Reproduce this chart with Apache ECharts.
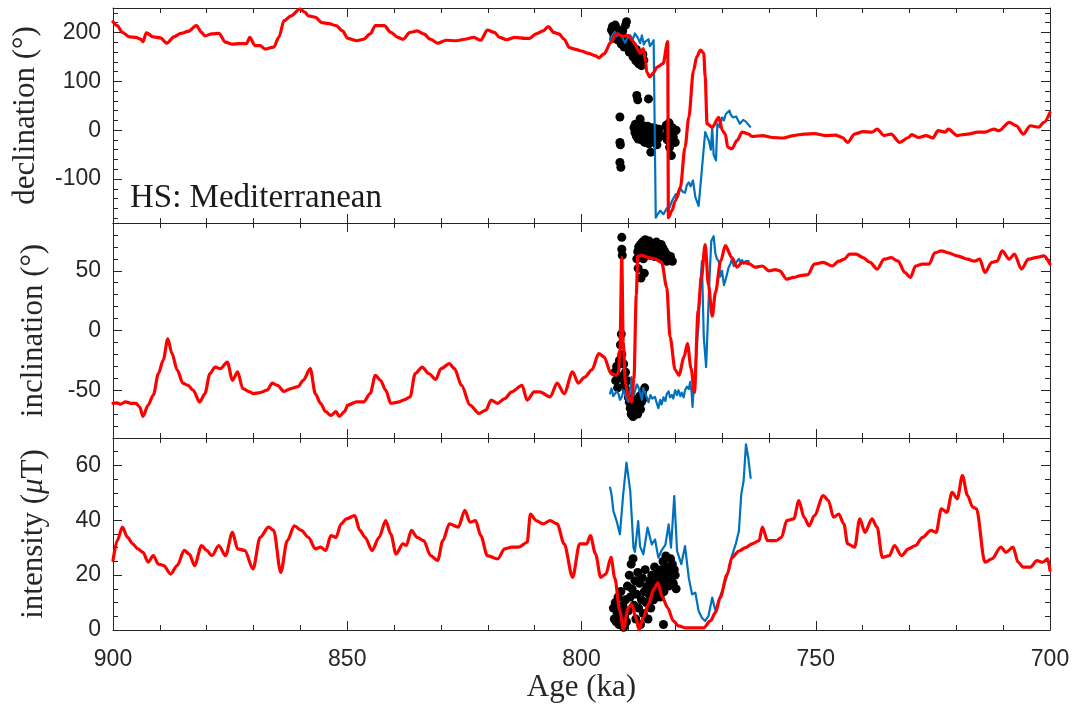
<!DOCTYPE html>
<html>
<head>
<meta charset="utf-8">
<script src="https://cdn.jsdelivr.net/npm/echarts@6/dist/echarts.min.js"></script>
<style>
  html, body { margin: 0; padding: 0; background: #ffffff; }
  #chart { width: 1076px; height: 705px; }
</style>
</head>
<body>
<div id="chart"></div>
<script>
// Age axis (ka) shared by all three panels
const ageMin = 700;
const ageMax = 900;
const ageStep = 50;

// ---------- Declination (deg) ----------
const declRed = [
  [900,222],[899.1,214],[898,200],[896.5,191],[895.1,190],[894,186],[893.6,181],[892.9,199],[891.4,191],
  [889.9,189],[888.5,178],[887,191],[885.5,198],[884,202],[882.2,214],[881.1,200],[880.4,193],[878.9,197],
  [877.4,198],[876,180],[874.5,176],[873,177],[871.5,177],[870.8,190],[869.7,173],[868.6,173],[867.5,166],
  [865.7,170],[864.6,190],[863.5,224],[862,234],[860.1,248],[859,241],[858.3,234],[856.8,231],[855.4,220],
  [853.9,218],[852.4,214],[851,203],[849.9,188],[848,183],[846.5,186],[845.1,197],[844,214],[842.1,214],
  [840.7,200],[839.2,190],[838.1,186],[836.6,200],[835.1,203],[833.7,197],[832.2,186],[830.7,178],[828.9,184],
  [826.7,183],[824.9,186],[823,190],[821.5,184],[820.1,205],[818.6,200],[817.5,190],[816,185],[814.2,190],
  [812,188],[811.1,188],[809.7,197],[808.2,203],[807.1,212],[805.9,200],[804.8,197],[803.7,186],[802.6,169],
  [801.5,166],[800,162],[798.5,157],[797,152],[796.3,148],[795.2,156],[793.7,180],[792.6,197],[791.1,192],
  [790,194],[789.3,185],[788.6,177],[788,165],[787.5,157],[786.8,167],[786.3,140],[786.1,119],[785.4,109],
  [784.6,118],[783.9,129],[782.6,136],[781.6,181],[781.45,-179],[780.7,-165],[780,-145],[778.9,-117],
  [777.9,-35],[777.1,26],[776.1,122],[775.4,150],[774.6,164],[773.9,157],[773.6,109],[773.2,13],[772.1,6],
  [770.7,26],[769.9,-1],[769.3,-8],[768.8,-35],[767.9,-38],[766.8,-21],[765.7,-4],[764.3,-8],[763.6,-13],
  [761.4,-11],[759.2,-15],[756.9,-16],[754.7,-11],[752.5,-8],[750.3,-7],[748,-11],[745.8,-10],[744.3,-15],
  [743.2,-25],[741.7,-8],[739.9,-3],[738,-4],[736.9,2],[735.4,-11],[733.9,-8],[732.1,-25],[730.2,-15],
  [729.5,-9],[728,-15],[726.5,-11],[725,-16],[723.9,-1],[722.4,-4],[721.7,2],[719.8,-11],[717.6,-8],
  [715.4,-4],[713.9,-4],[712,2],[710.9,-1],[708.7,16],[707.2,9],[705.7,-8],[704.2,9],[702.4,6],[701.3,16],
  [700,36]
];
const declBlue = [
  [793.9,184],[793.4,195],[792.9,201],[792.5,192],[792.1,198],[791.4,191],[790.7,179],[790.2,188],[789.6,194],
  [789.1,185],[788.6,198],[787.9,188],[787.5,178],[787.1,194],[786.7,175],[786.4,181],[785.7,186],[785.4,172],
  [785,177],[784.6,184],[784.3,181],[784.15,-179],[783.6,-170],[783.2,-165],[782.5,-172],[781.8,-160],
  [781.2,-158],[780.7,-145],[779.9,-131],[779.4,-136],[778.9,-119],[778.4,-126],[777.9,-128],[777.5,-112],
  [777.1,-107],[776.7,-115],[776.2,-103],[775.7,-137],[775,-155],[774.3,-80],[773.6,-4],[773.2,-1],
  [772.8,-22],[772.4,-40],[772.1,6],[771.8,-50],[771.3,-62],[771,13],[770.5,6],[770,26],[769.6,20],
  [769.2,33],[768.9,37],[768.4,40],[768.2,33],[767.7,26],[767.3,30],[767,28],[766.6,24],[766.2,13],
  [765.5,21],[765,18],[764.7,16],[764,7]
];
const declDots = [
  [793.6,205],[793.4,212],[793.2,198],[793,208],[792.8,215],[792.6,200],[792.4,195],[792.2,206],[792,190],
  [791.8,198],[791.6,185],[791.4,192],[791.2,203],[791,180],[790.8,188],[790.6,215],[790.4,222],[790.3,175],
  [790.1,182],[789.9,170],[789.7,178],[789.5,168],[789.3,160],[789.1,172],[788.9,162],[788.7,155],[788.5,150],
  [788.3,165],[788.1,158],[787.9,145],[787.7,152],[787.5,140],[787.3,148],[787.1,138],[786.9,155],[786.7,143],
  [793.1,188],[792.3,185],[791.5,176],[790.9,170],[789.8,160],[789,150],[788.4,142],[787.8,136],[787.2,132],
  [788.2,71],[788,62],[785.7,64],[791.8,27],[787.5,23],[791.8,-25],[791.7,-30],[791.8,-66],[791.6,-76],
  [788.8,5],[788.6,-5],[788.5,12],[788.3,-12],[788.2,0],[788,8],[787.9,-18],[787.8,-3],[787.6,15],[787.5,-8],
  [787.3,2],[787.2,-20],[787,10],[786.9,-12],[786.8,-2],[786.6,6],[786.5,-25],[786.3,-6],[786.2,3],[786,-15],
  [785.9,8],[785.7,-4],[785.6,-28],[785.4,-10],[785.3,0],[785.2,-45],[785,-8],[784.9,5],[784.7,-14],
  [784.6,-2],[784.4,-22],[784.3,4],[784.1,-10],[783.9,-30],[783.8,-5],[783.6,-16],[783.4,2],[782.2,-12],
  [781.9,10],[781.7,-20],[781.5,-2],[781.3,15],[781.2,-35],[781,-8],[780.8,-52],[780.6,5],[780.4,-15],
  [780.2,-3],[780,-25],[779.8,0]
];

// ---------- Inclination (deg) ----------
const inclRed = [
  [900,-61],[899.1,-60.6],[898.4,-61.7],[897.3,-59.7],[896.2,-61],[895.1,-61],[894.3,-64],[893.6,-72],
  [892.5,-62.5],[891.4,-54],[890.3,-36],[889.3,-25],[888.3,-7],[887.4,-19.4],[886.3,-33],[885.1,-44],
  [884,-46],[882.9,-50],[881.5,-60],[880.4,-53],[879.3,-36],[878.2,-30.6],[877.1,-32],[875.6,-26.4],
  [874.5,-41.7],[873.4,-34.7],[872.3,-48.6],[870.8,-51.4],[870.1,-52.8],[868.6,-52],[867.1,-50],[866,-44],
  [864.9,-46],[863.5,-51],[862,-48.6],[860.5,-47],[859.4,-41.7],[857.9,-32],[856.8,-53],[855.7,-61],
  [854.6,-68],[853.5,-71],[852.4,-68],[851.7,-72],[850.6,-68],[849.9,-62.5],[848,-59.7],[846.5,-59.7],
  [845.1,-52.8],[844,-37.5],[842.9,-41.7],[841.8,-50],[840.7,-61],[839.2,-60],[837.7,-57.8],[836.6,-55.6],
  [835.5,-36],[834,-30.6],[832.6,-36],[831.1,-41],[830,-32],[828.2,-27.8],[827.1,-32],[825.6,-46],
  [823.8,-62.5],[821.9,-69.4],[820.4,-66.7],[819.3,-58.3],[817.9,-61],[816.4,-57],[814.9,-51.4],
  [812.7,-46],[811.6,-58.3],[810.1,-51.4],[808.9,-51.4],[806.7,-55.6],[805.2,-44],[803.7,-52.8],
  [801.9,-34.7],[800.7,-44],[799.3,-39],[797.8,-33],[796.3,-19.4],[795.2,-22],[793.7,-36],[792.6,-37.5],
  [792.1,-35],[791.8,-16.7],[791.4,61],[791.1,-10],[790.6,-45],[790,-56],[789.3,-60],[788.8,-40],
  [788.3,30],[788,62],[787.1,63],[785.7,61],[784.3,60],[782.9,57],[781.8,36],[781.1,-5.6],[780,-33],
  [779.2,-37.5],[778.1,-22],[777.4,-11],[776.6,-32],[775.9,-52],[775.1,16.7],[774.4,45],[773.6,72],
  [772.9,38],[772.1,12],[771.4,32],[770.3,58],[769.3,71],[767.9,61],[766.8,53],[765.7,57],[764.3,56],
  [762.9,53],[761.4,54],[760,50],[758.6,51],[757.7,50],[756.2,43],[754.7,44.4],[753.2,46],[751.7,46.7],
  [750.3,55.6],[748.4,57],[746.5,54],[745.1,58],[743.9,59.7],[742.8,64],[741.4,64],[739.9,61],[738.4,57],
  [736.9,51.4],[735.4,59.7],[733.9,61],[732.4,58],[731,48.6],[729.8,44.4],[728.7,54],[727.2,55.6],
  [725.8,55.6],[724.6,65],[723.2,66.7],[721.7,65],[719.8,62.5],[717.6,59.7],[716.1,58],[715,59.7],
  [713.9,48.6],[712.4,57],[711.3,58],[710.2,66.7],[708.7,59.7],[707.6,64],[706.1,51.4],[704.6,59.7],
  [703.1,61],[701.3,62.5],[700,55.6]
];
const inclBlue = [
  [793.9,-52.8],[793.6,-48.6],[793.2,-55],[792.9,-55.6],[792.5,-51],[792.1,-53],[791.8,-58],[791.4,-55.6],
  [791,-50],[790.7,-53],[790.4,-57],[790,-59.7],[789.6,-50],[789.3,-39],[788.9,-55],[788.6,-56],[788.2,-45],
  [787.9,-47],[787.5,-52],[787.1,-58],[786.8,-48],[786.4,-52],[786.1,-56],[785.7,-60],[785.3,-54],
  [784.9,-57],[784.3,-55.6],[784,-60],[783.6,-65],[783.2,-58],[782.9,-62],[782.5,-56],[782.1,-59],
  [781.8,-53],[781.4,-51],[781.1,-56],[780.7,-54],[780.4,-57],[780,-50],[779.6,-54],[779.3,-50],[778.9,-55],
  [778.6,-52],[778.2,-56],[777.9,-50],[777.5,-47],[777.1,-49],[776.8,-43],[776.5,-52],[776.3,-64],[776,-45],
  [775.7,-33],[775.4,-12],[775,5.6],[774.7,35],[774.3,58],[773.9,-5.6],[773.4,-30.6],[773.1,0],[772.9,22],
  [772.6,50],[772.3,75],[771.8,79],[771.4,64],[771.1,60],[770.7,58],[770.4,45],[770,50],[769.6,38],
  [769.3,41.7],[768.9,48],[768.6,52.8],[768.2,56],[767.9,60],[767.5,54],[767.1,56],[766.8,58],[766.4,60],
  [766.1,57],[765.7,59],[765.4,56],[765,58],[764.6,57],[764.3,58]
];
const inclDots = [
  [791.4,78],[791.4,68],[791.3,63],[788.2,60],[788,66],[787.8,70],[787.6,62],[787.4,72],[787.2,67],[787,74],
  [786.8,60],[786.6,69],[786.4,76],[786.2,65],[786,72],[785.8,68],[785.6,75],[785.4,63],[785.2,70],[785,73],
  [784.8,66],[784.6,71],[784.4,62],[784.2,68],[784,74],[783.8,65],[783.6,70],[783.4,61],[783.2,67],[783,72],
  [782.8,64],[782.6,69],[782.4,60],[782.2,66],[782,62],[781.8,58],[781.6,63],[781.4,60],[781,62],[780.6,58],
  [787.3,44],[786.6,48],[787.9,52],
  [792.9,-35],[792.7,-42],[792.5,-30],[792.3,-48],[792.1,-38],[791.9,-25],[791.7,-12],[791.5,-3],[791.4,-20],
  [791.2,-40],[791,-28],[790.8,-45],[790.6,-35],[790.4,-50],[790.2,-42],[790,-56],
  [789.8,-60],[789.6,-65],[789.4,-70],[789.2,-62],[789,-72],[788.8,-66],[788.6,-58],[788.4,-68],[788.2,-63],
  [788,-70],[787.8,-61],[787.6,-55],[787.4,-66],[787.2,-60],[787,-52],[786.8,-57],[786.5,-48]
];

// ---------- Intensity (uT) ----------
const intRed = [
  [900,25.3],[899.1,32.6],[898,37.5],[896.9,33.8],[895.8,31.4],[894.7,29.6],[893.6,28.3],[892.5,24.7],
  [891.4,27.1],[890.3,24],[889.2,23.5],[887.7,20.4],[886.3,23.5],[884.8,29],[883.7,27.7],[882.6,23.5],
  [881.1,30.8],[880,29],[878.9,27.1],[877.4,30.8],[876,27.1],[874.5,35.6],[873.4,29.6],[871.9,29],
  [870.1,22.3],[868.6,33.8],[866.8,37.5],[865.7,36.3],[864.2,21],[862.8,32.6],[861.3,38],[859.8,36.3],
  [858.3,33.8],[856.8,29.6],[855.7,30.2],[854.6,29],[853.5,34.4],[852.4,33.8],[851.3,38.7],[850.2,40.5],
  [848.4,41.7],[847.3,36.3],[846.2,33.8],[844.7,29],[843.2,33.8],[841.8,39.9],[840.7,35],[839.6,27.7],
  [838.1,31.4],[837.4,30.8],[836.3,36.3],[835.1,33.8],[833.7,32.6],[832.2,27.1],[830.7,25.3],[829.6,32.6],
  [828.2,38.7],[826.3,37.5],[824.9,43.6],[823.8,39.3],[822.6,39.9],[821.5,34.4],[820.1,27.1],[817.9,25.9],
  [816.4,29.6],[814.9,30.2],[813.4,30.2],[811.6,32],[810.9,42.3],[809.7,39.9],[808.2,38.7],[806.7,39.9],
  [805.2,38.7],[803.7,31.4],[801.9,19.2],[800.4,31.4],[798.9,31.4],[798.1,34.4],[797,27.7],[795.9,19.2],
  [794.8,20.4],[793.7,26.5],[792.9,19],[791.8,6.9],[791.1,0.3],[790,8.1],[789.3,9.4],[788.4,4.5],[787.7,0],
  [786.8,4.5],[785.7,9.4],[784.6,14.8],[783.7,17.2],[782.7,11.8],[781.6,8.1],[780.4,3.3],[779.3,1.5],
  [777.9,0.8],[775.7,0.8],[773.9,0.8],[772.5,3.3],[771.4,6.3],[770.4,11.8],[768.9,20.3],[767.9,26.4],
  [766.4,28.8],[765,30],[763.6,31.4],[762.1,32.6],[761.4,37.5],[760.3,32.6],[758.4,32.6],[757.3,33.8],
  [756.2,39.9],[754.7,40.5],[753.6,47.2],[752.5,41.1],[751.4,38],[750.3,41.7],[748.4,49],[747.3,47.2],
  [746.2,41.1],[745.1,42.3],[744,38.7],[743.2,31.4],[741.7,30.2],[740.6,40.5],[739.5,35.6],[738,40.5],
  [736.9,37.5],[735.8,26.5],[734.3,27.1],[733.2,30.8],[731.7,27.1],[730.2,29.6],[728.7,30.8],[727.2,33.8],
  [725.4,36.3],[724.3,35.6],[723.2,44.2],[722,42.9],[720.9,50.2],[719.8,47.8],[718.7,56.3],[717.6,49],
  [716.5,44.8],[715.7,44.2],[713.9,24.7],[712.4,25.9],[710.5,30.2],[709.4,28.3],[707.9,30.2],[706.8,24.7],
  [705.7,22.9],[704.2,22.9],[702.8,25.3],[701.6,24.7],[700.5,25.9],[700,21.7]
];
const intBlue = [
  [793.9,51.9],[793.6,49.5],[793.2,43.4],[792.5,39.7],[791.8,34.9],[791.1,49.5],[790.4,61],[789.6,50.7],
  [788.9,30],[788.6,28.5],[787.9,39.7],[787.5,30.5],[786.8,27.6],[785.9,37.3],[785,31.2],[784.3,33],
  [783.6,26.4],[782.9,29],[782.1,31],[781.4,38.5],[780.9,30],[780.2,48.8],[779.6,28.8],[778.7,24],
  [777.9,30.6],[777.1,19],[776.4,13],[775.7,13.6],[775,6.9],[774.3,4.5],[773.6,3.3],[772.9,5.1],[772.1,11.8],
  [771.4,6.9],[770.7,11],[770,14.2],[769.3,17.9],[768.6,21.5],[767.9,27],[767.1,31.2],[766.4,36.1],
  [765.9,49.5],[765.4,54.3],[764.9,67.7],[764.4,62.8],[763.9,55.5]
];
const intDots = [
  [793.2,8],[793,4],[792.8,10],[792.6,3],[792.4,6],[792.2,12],[792,2],[791.8,7],[791.6,14],[791.4,4],
  [791.2,9],[791,1],[790.8,5],[790.6,11],[790.4,3],[790.2,16],[790,7],[789.8,20],[789.6,12],[789.4,24],
  [789.2,15],[789,26],[788.8,9],[788.6,18],[788.4,4],[788.2,13],[788,21],[787.8,8],[787.6,17],[787.4,2],
  [787.2,11],[787,19],[786.8,6],[786.6,14],[786.4,22],[786.2,10],[786,16],[785.8,4],[785.6,13],[785.4,18],
  [785.2,8],[785,20],[784.8,15],[784.6,11],[784.4,23],[784.2,17],[784,13],[783.8,21],[783.6,16],[783.4,19],
  [783.2,12],[783,22],[782.8,17],[782.6,25],[782.4,14],[782.2,20],[782,27],[781.8,18],[781.6,23],[781.4,16],
  [781.2,21],[781,26],[780.8,19],[780.6,24],[780.4,17],[780.2,22],[780,20],[779.8,15],[782.5,2]
];

// ---------- Panel definitions ----------
const panelNames = ['declination (°)', 'inclination (°)', 'intensity ({m|μ}T)'];
const panelMin = [-190, -90, 0];
const panelMax = [250, 90, 70];
const panelSplit = [5, 4, 4];
const panelMinor = [5, 5, 4];
const panelTop = [8, 223, 438];
const panelHeight = [215, 215, 192];
const panelNameGap = [72, 64, 64];

const axisColor = '#262626';
const serif = 'Liberation Serif';
const sans = 'Liberation Sans';
const gridLeft = 113;
const gridRight = 1076 - 1050;

const grids = [], xAxes = [], yAxes = [];
for (let i = 0; i < 3; i++) {
  grids.push({ left: gridLeft, right: gridRight, top: panelTop[i], height: panelHeight[i], containLabel: false });
  ['bottom', 'top'].forEach(function (pos) {
    const isLabelled = (i === 2 && pos === 'bottom');
    xAxes.push({
      type: 'value', gridIndex: i, position: pos, inverse: true,
      min: ageMin, max: ageMax, interval: ageStep,
      axisLine: { show: true, onZero: false, lineStyle: { color: axisColor, width: 1 } },
      axisTick: { show: true, inside: true, length: 9, lineStyle: { color: axisColor, width: 1 } },
      minorTick: { show: true, splitNumber: 5, length: 5, lineStyle: { color: axisColor, width: 1 } },
      splitLine: { show: false },
      axisLabel: { show: isLabelled, color: axisColor, fontFamily: sans, fontSize: 23, margin: 18 },
      name: isLabelled ? 'Age (ka)' : '',
      nameLocation: 'middle', nameGap: 42,
      nameTextStyle: { color: axisColor, fontFamily: serif, fontSize: 31 }
    });
  });
  ['left', 'right'].forEach(function (pos) {
    const isLeft = pos === 'left';
    yAxes.push({
      type: 'value', gridIndex: i, position: pos,
      min: panelMin[i], max: panelMax[i], splitNumber: panelSplit[i],
      axisLine: { show: true, onZero: false, lineStyle: { color: axisColor, width: 1 } },
      axisTick: { show: true, inside: true, length: 9, lineStyle: { color: axisColor, width: 1 } },
      minorTick: { show: true, splitNumber: panelMinor[i], length: 5, lineStyle: { color: axisColor, width: 1 } },
      splitLine: { show: false },
      axisLabel: { show: isLeft, color: axisColor, fontFamily: sans, fontSize: 23, margin: 12,
                   showMinLabel: i === 2, showMaxLabel: false },
      name: isLeft ? panelNames[i] : '',
      nameLocation: 'middle', nameRotate: 90, nameGap: panelNameGap[i],
      nameTextStyle: {
        color: axisColor, fontFamily: serif, fontSize: 31,
        rich: { m: { fontFamily: serif, fontSize: 31, fontStyle: 'italic', color: axisColor } }
      }
    });
  });
}

function lineSeries(data, panel, color, width, z, smooth) {
  return {
    type: 'line', data: data, xAxisIndex: panel * 2, yAxisIndex: panel * 2,
    showSymbol: false, symbol: 'none', smooth: smooth, smoothMonotone: 'x', z: z,
    lineStyle: { color: color, width: width, join: 'round', cap: 'round' }
  };
}
function dotSeries(data, panel) {
  return {
    type: 'scatter', data: data, xAxisIndex: panel * 2, yAxisIndex: panel * 2,
    symbol: 'circle', symbolSize: 9, z: 2,
    itemStyle: { color: '#000000', opacity: 1 }
  };
}

const red = '#ff0000';
const blue = '#0072bd';

const option = {
  backgroundColor: '#ffffff',
  animation: false,
  grid: grids,
  xAxis: xAxes,
  yAxis: yAxes,
  series: [
    dotSeries(declDots, 0), lineSeries(declBlue, 0, blue, 2.2, 3, false), lineSeries(declRed, 0, red, 3.2, 4, 0.3),
    dotSeries(inclDots, 1), lineSeries(inclBlue, 1, blue, 2.2, 3, false), lineSeries(inclRed, 1, red, 3.2, 4, 0.3),
    dotSeries(intDots, 2), lineSeries(intBlue, 2, blue, 2.2, 3, false), lineSeries(intRed, 2, red, 3.2, 4, 0.3)
  ],
  graphic: [{
    type: 'text', left: 130, top: 182,
    style: { text: 'HS: Mediterranean', font: '33px "Liberation Serif"', fill: '#1a1a1a' }
  }]
};

const chart = echarts.init(document.getElementById('chart'), null, { renderer: 'canvas' });
chart.setOption(option);
</script>
</body>
</html>
